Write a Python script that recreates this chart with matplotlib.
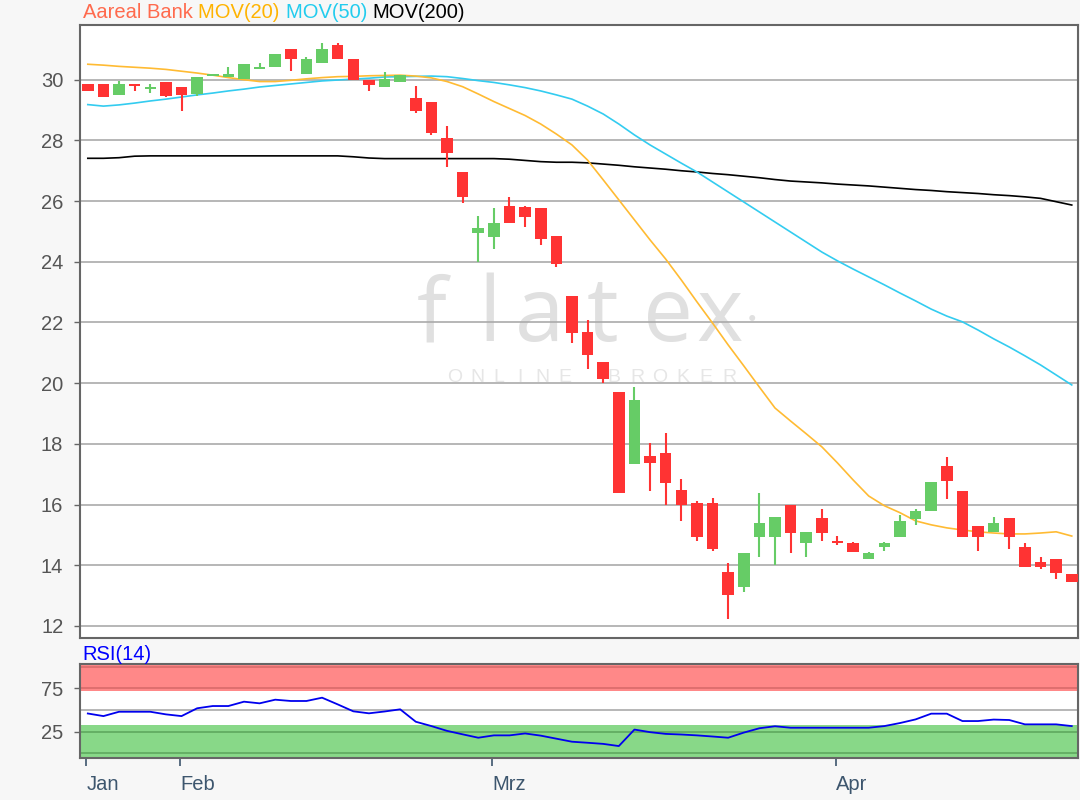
import matplotlib
matplotlib.use("Agg")
import matplotlib.pyplot as plt
import numpy as np

# ---------------- data ----------------
opens = [29.86, 29.86, 29.50, 29.86, 29.69, 29.93, 29.75, 29.53, 30.11, 30.08,
         30.02, 30.36, 30.41, 31.00, 30.19, 30.56, 31.14, 30.67, 29.99, 29.77,
         29.91, 29.41, 29.28, 28.09, 26.97, 24.96, 24.83, 25.85, 25.82, 25.78,
         24.86, 22.88, 21.70, 20.71, 19.72, 17.33, 17.61, 17.69, 16.48, 16.04,
         16.04, 13.79, 13.29, 14.94, 14.94, 15.99, 14.74, 15.57, 14.80, 14.72,
         14.21, 14.59, 14.92, 15.52, 15.79, 17.28, 16.43, 15.30, 15.11, 15.57,
         14.59, 14.12, 14.20, 13.71]
highs = [29.86, 29.86, 29.97, 29.86, 29.86, 29.93, 29.75, 30.08, 30.19, 30.41,
         30.52, 30.54, 30.85, 31.00, 30.74, 31.20, 31.20, 30.67, 29.99, 30.26,
         30.15, 29.80, 29.28, 28.48, 26.97, 25.52, 25.78, 26.13, 25.85, 25.78,
         24.86, 22.88, 22.08, 20.71, 19.72, 19.87, 18.02, 18.35, 16.83, 16.12,
         16.23, 14.07, 14.40, 16.37, 15.58, 15.99, 15.11, 15.84, 14.97, 14.78,
         14.45, 14.78, 15.66, 15.84, 16.75, 17.56, 16.43, 15.30, 15.58, 15.57,
         14.72, 14.26, 14.20, 13.71]
lows = [29.63, 29.42, 29.50, 29.63, 29.55, 29.42, 28.97, 29.47, 30.11, 30.08,
        30.02, 30.36, 30.41, 30.29, 30.19, 30.56, 30.67, 29.99, 29.63, 29.77,
        29.91, 28.89, 28.18, 27.13, 25.95, 23.98, 24.42, 25.29, 25.16, 24.55,
        23.84, 21.33, 20.47, 20.00, 16.39, 17.33, 16.46, 15.99, 15.47, 14.81,
        14.47, 12.22, 13.10, 14.28, 14.01, 14.40, 14.28, 14.80, 14.67, 14.42,
        14.21, 14.47, 14.92, 15.33, 15.79, 16.18, 14.92, 14.47, 15.11, 14.54,
        13.95, 13.88, 13.54, 13.43]
closes = [29.63, 29.42, 29.86, 29.80, 29.75, 29.47, 29.50, 30.08, 30.19, 30.19,
          30.52, 30.41, 30.85, 30.68, 30.67, 31.01, 30.67, 29.99, 29.83, 30.02,
          30.15, 28.97, 28.25, 27.59, 26.15, 25.12, 25.27, 25.29, 25.49, 24.75,
          23.92, 21.66, 20.93, 20.14, 16.39, 19.45, 17.36, 16.72, 15.99, 14.92,
          14.54, 13.02, 14.40, 15.38, 15.58, 15.05, 15.11, 15.07, 14.74, 14.42,
          14.40, 14.72, 15.44, 15.77, 16.75, 16.78, 14.92, 14.92, 15.38, 14.92,
          13.95, 13.95, 13.74, 13.43]

mov20 = [30.51, 30.48, 30.44, 30.41, 30.38, 30.34, 30.28, 30.22, 30.15, 30.07,
         30.00, 29.94, 29.94, 29.98, 30.03, 30.07, 30.10, 30.11, 30.13, 30.14,
         30.15, 30.12, 30.06, 29.94, 29.77, 29.53, 29.28, 29.05, 28.82, 28.54,
         28.21, 27.85, 27.35, 26.70, 26.04, 25.38, 24.72, 24.09, 23.40, 22.68,
         21.98, 21.26, 20.57, 19.87, 19.18, 18.75, 18.33, 17.90, 17.37, 16.81,
         16.28, 15.96, 15.73, 15.46, 15.33, 15.23, 15.16, 15.10, 15.06, 15.03,
         15.03, 15.06, 15.10, 14.96]
mov50 = [29.18, 29.13, 29.17, 29.23, 29.30, 29.36, 29.43, 29.50, 29.56, 29.63,
         29.69, 29.76, 29.81, 29.86, 29.91, 29.96, 29.99, 30.02, 30.05, 30.09,
         30.10, 30.11, 30.12, 30.10, 30.04, 29.97, 29.91, 29.83, 29.74, 29.63,
         29.50, 29.36, 29.13, 28.87, 28.54, 28.18, 27.85, 27.55, 27.25, 26.96,
         26.63, 26.30, 25.97, 25.64, 25.31, 24.98, 24.65, 24.32, 24.03, 23.76,
         23.50, 23.24, 22.97, 22.71, 22.44, 22.21, 22.02, 21.75, 21.46, 21.19,
         20.90, 20.60, 20.27, 19.94]
mov200 = [27.41, 27.41, 27.43, 27.48, 27.49, 27.49, 27.49, 27.49, 27.49, 27.49,
          27.49, 27.49, 27.49, 27.49, 27.49, 27.49, 27.49, 27.46, 27.42, 27.40,
          27.40, 27.40, 27.40, 27.40, 27.40, 27.40, 27.40, 27.38, 27.34, 27.30,
          27.28, 27.28, 27.26, 27.22, 27.18, 27.13, 27.09, 27.05, 27.00, 26.96,
          26.91, 26.87, 26.82, 26.77, 26.71, 26.66, 26.63, 26.60, 26.56, 26.53,
          26.50, 26.46, 26.42, 26.38, 26.35, 26.31, 26.28, 26.25, 26.21, 26.18,
          26.14, 26.09, 25.98, 25.87]
rsi = [46.0, 43.0, 48.0, 48.0, 48.0, 45.0, 43.0, 52.0, 54.6, 54.6,
       59.6, 57.7, 61.9, 60.4, 60.4, 64.2, 56.5, 48.5, 46.2, 48.3,
       50.8, 36.5, 31.5, 26.0, 22.0, 18.1, 20.8, 20.8, 23.0, 20.5,
       17.0, 13.5, 12.3, 11.0, 8.5, 27.5, 24.5, 22.5, 21.8, 20.8,
       19.5, 18.1, 24.0, 29.0, 31.3, 29.6, 29.6, 29.6, 29.6, 29.6,
       29.6, 31.5, 35.0, 39.2, 45.8, 45.8, 37.3, 37.3, 39.0, 38.5,
       33.5, 33.5, 33.5, 31.5]

month_labels = ["Jan", "Feb", "Mrz", "Apr"]
month_index = [0, 6, 26, 48]
price_ticks = [12, 14, 16, 18, 20, 22, 24, 26, 28, 30]
rsi_ticks = [25, 75]

# ---------------- styling ----------------
plt.rcParams['font.family'] = ['Liberation Sans', 'DejaVu Sans']
BG = '#f7f7f7'
UP = '#66cc66'
DOWN = '#ff3333'
GRID = '#aaaaaa'
SPINE = '#666666'
YLAB = '#555555'
XLAB = '#3d566e'
FS = 14.5

fig = plt.figure(figsize=(10.8, 8.0), dpi=100, facecolor=BG)
ax = fig.add_axes([80/1080, 1-637.7/800, 998/1080, (637.7-24.8)/800])
ax2 = fig.add_axes([80/1080, 1-758.3/800, 998/1080, (758.3-664)/800])

n = len(opens)
x = np.arange(n)

# watermark (decoration, placed in figure pixels)
def fx(px):
    return (px - 80) / 998

def fy(py):
    return (637.7 - py) / 612.9

wm_color = '#e0e0e0'
for ch, cx in zip("flatex", [432, 490, 540, 602, 668, 720]):
    ax.text(fx(cx), fy(341), ch, transform=ax.transAxes, ha='center', va='baseline',
            fontsize=64, color=wm_color, family=['Open Sans', 'DejaVu Sans'],
            fontweight='normal', zorder=0.5)
ax.text(fx(752), fy(318), "\u25cf", transform=ax.transAxes, ha='center', va='center',
        fontsize=10, color=wm_color, zorder=0.5)
for ch, cx in zip("ONLINEBROKER", [455, 477, 499, 520, 542, 565, 614, 637, 660, 683, 706, 729]):
    ax.text(fx(cx), fy(378), ch, transform=ax.transAxes, ha='center', va='center',
            fontsize=14, color='#e6e6e6', zorder=0.5)

# main axes
ax.set_facecolor('white')
for yv in price_ticks:
    ax.axhline(yv, color=GRID, lw=1.2, zorder=1)
ax.plot(x, mov200, color='black', lw=1.2, zorder=2)
ax.plot(x, mov50, color='#33ccf0', lw=1.2, zorder=2)
ax.plot(x, mov20, color='#ffbb33', lw=1.2, zorder=2)

colors = [UP if c >= o else DOWN for o, c in zip(opens, closes)]
ax.vlines(x, lows, highs, colors=colors, lw=1.5, zorder=3)
bottoms = [min(o, c) for o, c in zip(opens, closes)]
heights = [max(abs(c - o), 0.06) for o, c in zip(opens, closes)]
ax.bar(x, heights, bottom=bottoms, width=0.74, color=colors, zorder=4, linewidth=0)

ax.set_xlim(-0.5, 63.4)
ax.set_ylim(11.61, 31.81)
ax.set_yticks(price_ticks)
ax.set_yticklabels([str(v) for v in price_ticks])
ax.tick_params(axis='y', length=4, width=1, color=SPINE, labelsize=FS, labelcolor=YLAB, pad=8)
ax.set_xticks([])
for s in ax.spines.values():
    s.set_color(SPINE)
    s.set_linewidth(1.5)

# RSI axes
ax2.set_facecolor('white')
ax2.set_xlim(-0.5, 63.4)
ax2.set_ylim(-5.6, 103)
ax2.axhspan(72.2, 103, color='#ff8888', lw=0, zorder=1)
ax2.axhspan(-5.6, 32.7, color='#88d888', lw=0, zorder=1)
ax2.axhline(100, color='#d96a6a', lw=1.2, zorder=2)
ax2.axhline(75, color='#d96a6a', lw=1.2, zorder=2)
ax2.axhline(50, color=GRID, lw=1.2, zorder=2)
ax2.axhline(25, color='#5fa85f', lw=1.2, zorder=2)
ax2.axhline(0, color='#5fa85f', lw=1.2, zorder=2)
ax2.plot(x, rsi, color='#0000ee', lw=1.3, zorder=3)
ax2.set_yticks(rsi_ticks)
ax2.set_yticklabels([str(v) for v in rsi_ticks])
ax2.tick_params(axis='y', length=4, width=1, color=SPINE, labelsize=FS, labelcolor=YLAB, pad=8)
ax2.set_xticks([i - 0.1 for i in month_index])
ax2.set_xticklabels(month_labels, ha='left')
ax2.tick_params(axis='x', length=6, width=1.2, color=XLAB, labelsize=FS, labelcolor=XLAB, pad=6)
for s in ax2.spines.values():
    s.set_color(SPINE)
    s.set_linewidth(1.5)

# title pieces
fig.canvas.draw()
renderer = fig.canvas.get_renderer()
parts = [("Aareal Bank", '#ff6a4d'), ("MOV(20)", '#ffb300'), ("MOV(50)", '#22ccee'), ("MOV(200)", 'black')]
xpos = 83 / 1080
for i, (txt, col) in enumerate(parts):
    label = txt if i == len(parts) - 1 else txt + " "
    t = fig.text(xpos, 1 - 13 / 800, label, color=col, fontsize=FS, ha='left', va='center')
    bb = t.get_window_extent(renderer=renderer)
    xpos += bb.width / 1080

fig.text(82 / 1080, 1 - 654.3 / 800, "RSI(14)", color='#0000ff', fontsize=FS, ha='left', va='center')

fig.savefig("out.png", dpi=100, facecolor=BG)
